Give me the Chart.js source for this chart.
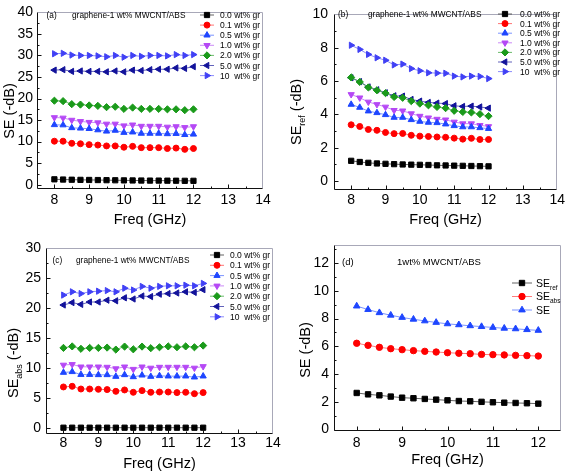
<!DOCTYPE html>
<html><head><meta charset="utf-8">
<script src="https://cdn.jsdelivr.net/npm/chart.js@4.4.0/dist/chart.umd.min.js"></script>
<style>
html,body{margin:0;padding:0;background:#fff;}
body{width:567px;height:473px;overflow:hidden;position:relative;}
.p{position:absolute;}
canvas{display:block;}
</style></head><body>
<div class="p" style="left:0px;top:0px;width:290px;height:230px"><canvas id="ca" width="290" height="230"></canvas></div>
<div class="p" style="left:285px;top:0px;width:282px;height:230px"><canvas id="cb" width="282" height="230"></canvas></div>
<div class="p" style="left:0px;top:230px;width:290px;height:243px"><canvas id="cc" width="290" height="243"></canvas></div>
<div class="p" style="left:285px;top:230px;width:282px;height:243px"><canvas id="cd" width="282" height="243"></canvas></div>
<script>
// ---------- data ----------
const freq = [8, 8.25, 8.5, 8.75, 9, 9.25, 9.5, 9.75, 10, 10.25, 10.5, 10.75, 11, 11.25, 11.5, 11.75, 12];
const groupLabels = ['0.0 wt% gr', '0.1 wt% gr', '0.5 wt% gr', '1.0 wt% gr', '2.0 wt% gr', '5.0 wt% gr', '10  wt% gr'];
const dLabels = [['SE', 'ref'], ['SE', 'abs'], ['SE', '']];
const xTicksWide = [8, 9, 10, 11, 12, 13, 14];
const xTicksD = [8, 9, 10, 11, 12];
const yTicksA = [0, 5, 10, 15, 20, 25, 30, 35, 40];
const yTicksB = [0, 2, 4, 6, 8, 10];
const yTicksC = [0, 5, 10, 15, 20, 25, 30];
const yTicksD = [0, 2, 4, 6, 8, 10, 12];

// (a) total SE
const seA00 = [1.25, 1.2, 1.15, 1.12, 1.1, 1.08, 1.05, 1.03, 1.0, 0.98, 0.97, 0.95, 0.95, 0.93, 0.92, 0.9, 0.9];
const seA01 = [10.1, 10.1, 9.6, 9.5, 9.3, 9.2, 9.0, 9.0, 8.7, 8.9, 8.6, 8.6, 8.6, 8.4, 8.5, 8.2, 8.4];
const seA05 = [13.9, 13.85, 13.2, 13.1, 13.0, 12.7, 12.4, 12.6, 12.1, 12.2, 11.9, 11.9, 11.9, 11.8, 11.85, 11.6, 11.7];
const seA10 = [15.6, 15.5, 15.0, 14.7, 14.5, 14.4, 14.1, 14.1, 13.7, 13.9, 13.6, 13.6, 13.6, 13.4, 13.5, 13.3, 13.5];
const seA20 = [19.5, 19.4, 18.7, 18.6, 18.4, 18.3, 18.0, 18.1, 17.6, 17.9, 17.6, 17.6, 17.6, 17.5, 17.5, 17.3, 17.5];
const seA50 = [26.6, 26.7, 26.3, 26.4, 26.3, 26.3, 26.2, 26.4, 26.2, 26.6, 26.5, 26.7, 26.8, 26.8, 27.1, 27.0, 27.4];
const seA100 = [30.4, 30.5, 30.1, 30.0, 30.0, 29.9, 29.7, 30.0, 29.6, 30.0, 29.8, 30.0, 30.0, 29.9, 30.2, 30.0, 30.2];

// (b) SE_ref
const seB00 = [1.22, 1.15, 1.1, 1.06, 1.04, 1.02, 1.0, 0.99, 0.98, 0.97, 0.95, 0.94, 0.93, 0.92, 0.91, 0.9, 0.89];
const seB01 = [3.38, 3.28, 3.1, 3.05, 2.92, 2.85, 2.86, 2.75, 2.7, 2.68, 2.65, 2.63, 2.58, 2.52, 2.57, 2.5, 2.5];
const seB05 = [4.6, 4.42, 4.2, 4.1, 3.98, 3.82, 3.82, 3.68, 3.58, 3.52, 3.5, 3.42, 3.32, 3.25, 3.25, 3.2, 3.15];
const seB10 = [5.2, 5.0, 4.75, 4.6, 4.45, 4.25, 4.22, 4.05, 3.9, 3.8, 3.72, 3.68, 3.55, 3.45, 3.45, 3.35, 3.28];
const seB20 = [6.22, 5.95, 5.62, 5.45, 5.28, 5.05, 5.0, 4.8, 4.65, 4.55, 4.45, 4.38, 4.22, 4.15, 4.12, 4.02, 3.9];
const seB50 = [6.2, 5.97, 5.65, 5.48, 5.3, 5.12, 5.1, 4.9, 4.8, 4.72, 4.68, 4.65, 4.52, 4.48, 4.5, 4.45, 4.38];
const seB100 = [8.15, 7.9, 7.6, 7.4, 7.25, 6.97, 7.02, 6.75, 6.62, 6.5, 6.48, 6.47, 6.3, 6.25, 6.3, 6.28, 6.15];

// (c) SE_abs
const seC00 = [0.05, 0.05, 0.05, 0.05, 0.05, 0.05, 0.05, 0.05, 0.05, 0.05, 0.05, 0.05, 0.05, 0.05, 0.05, 0.05, 0.05];
const seC01 = [6.84, 6.95, 6.5, 6.5, 6.45, 6.4, 6.11, 6.34, 5.95, 6.23, 5.95, 6.0, 6.0, 5.9, 5.95, 5.72, 5.9];
const seC05 = [9.25, 9.37, 8.9, 8.9, 8.86, 8.86, 8.58, 8.86, 8.52, 8.8, 8.58, 8.7, 8.64, 8.64, 8.64, 8.47, 8.64];
const seC10 = [10.5, 10.6, 10.2, 10.2, 10.2, 10.15, 9.9, 10.2, 9.8, 10.2, 10.0, 10.15, 10.15, 10.15, 10.15, 10.0, 10.26];
const seC20 = [13.35, 13.6, 13.2, 13.35, 13.35, 13.4, 13.07, 13.57, 13.12, 13.57, 13.3, 13.46, 13.6, 13.46, 13.6, 13.46, 13.74];
const seC50 = [20.5, 20.9, 20.6, 21.0, 21.0, 21.3, 21.2, 21.7, 21.5, 22.0, 21.9, 22.3, 22.4, 22.5, 22.7, 22.6, 23.05];
const seC100 = [22.15, 22.7, 22.4, 22.7, 22.8, 22.9, 22.7, 23.3, 23.0, 23.6, 23.3, 23.6, 23.7, 23.7, 23.8, 23.7, 24.1];

// (d) 1wt% MWCNT/ABS
const seDref = [2.64, 2.54, 2.47, 2.38, 2.3, 2.26, 2.21, 2.16, 2.11, 2.06, 2.04, 2.0, 1.97, 1.94, 1.92, 1.9, 1.87];
const seDabs = [6.22, 6.07, 5.93, 5.83, 5.76, 5.69, 5.64, 5.59, 5.54, 5.5, 5.47, 5.42, 5.4, 5.38, 5.35, 5.33, 5.3];
const seDtot = [8.9, 8.65, 8.42, 8.24, 8.08, 7.95, 7.83, 7.72, 7.62, 7.55, 7.48, 7.42, 7.36, 7.3, 7.26, 7.2, 7.15];

// ---------- styles ----------
const FONT = '"Liberation Sans", Arial, Helvetica, sans-serif';
const groupStyles = [
  {color: '#000000', line: 'rgba(60,60,60,0.8)', shape: 'rect', rot: 0, r: 3.7},
  {color: '#ff0000', line: 'rgba(255,80,80,0.8)', shape: 'circle', rot: 0, r: 3},
  {color: '#1e46ff', line: 'rgba(90,120,255,0.8)', shape: 'triangle', rot: 0, r: 3.6},
  {color: '#b548f5', line: 'rgba(190,110,245,0.8)', shape: 'triangle', rot: 180, r: 3.6},
  {color: '#1a9a1a', line: 'rgba(70,170,70,0.8)', shape: 'rectRot', rot: 0, r: 3.6},
  {color: '#12129a', line: 'rgba(60,60,170,0.8)', shape: 'triangle', rot: -90, r: 3.6},
  {color: '#4040f5', line: 'rgba(110,110,250,0.8)', shape: 'triangle', rot: 90, r: 3.6}
];
const dStyles = [
  {color: '#000000', line: 'rgba(60,60,60,0.8)', shape: 'rect', rot: 0, r: 3.8},
  {color: '#ff0000', line: 'rgba(255,90,90,0.8)', shape: 'circle', rot: 0, r: 3.2},
  {color: '#1e46ff', line: 'rgba(90,120,255,0.8)', shape: 'triangle', rot: 0, r: 3.8}
];

function groupSeries(arrs) {
  return arrs.map((v, i) => ({label: groupLabels[i], values: v, style: groupStyles[i]}));
}

const panels = [
  {id: 'ca', xMin: 7.5, xMax: 14, yMin: -1, yMax: 40, xTicks: xTicksWide, yTicks: yTicksA, xMinor: 0.5, yMinor: 2.5,
   pad: {top: 5, left: 0, right: 27, bottom: 0}, yW: 37, xH: 41, yPad: 4, xPad: 3, xTitlePad: 1,
   yTitle: [{t: 'SE (-dB)'}], yTitleX: 8.5, yTitleY: 111,
   notes: [{t: '(a)', x: 46.5, y: 15, size: 8.3}, {t: 'graphene-1 wt% MWCNT/ABS', x: 72, y: 15, size: 8.3}],
   leg: {x0: 200, x1: 214, tx: 220, y0: 15, gap: 10.1, size: 8.5},
   series: groupSeries([seA00, seA01, seA05, seA10, seA20, seA50, seA100])},
  {id: 'cb', xMin: 7.5, xMax: 14, yMin: -0.53, yMax: 10, xTicks: xTicksWide, yTicks: yTicksB, xMinor: 0.5, yMinor: 1,
   pad: {top: 7, left: 0, right: 8, bottom: 0}, yW: 49, xH: 40, yPad: 6, xPad: 2, xTitlePad: 1,
   yTitle: [{t: 'SE'}, {t: 'ref', sub: true}, {t: ' (-dB)'}], yTitleX: 10.5, yTitleY: 112,
   notes: [{t: '(b)', x: 53, y: 14.5, size: 8.3}, {t: 'graphene-1 wt% MWCNT/ABS', x: 83, y: 14.5, size: 8.3}],
   leg: {x0: 213, x1: 227, tx: 235, y0: 14, gap: 9.6, size: 8.5},
   series: groupSeries([seB00, seB01, seB05, seB10, seB20, seB50, seB100])},
  {id: 'cc', xMin: 7.5, xMax: 14, yMin: -1, yMax: 30, xTicks: xTicksWide, yTicks: yTicksC, xMinor: 0.5, yMinor: 2.5,
   pad: {top: 18, left: 0, right: 17, bottom: 0}, yW: 46, xH: 39, yPad: 5, xPad: 1, xTitlePad: 0,
   yTitle: [{t: 'SE'}, {t: 'abs', sub: true}, {t: ' (-dB)'}], yTitleX: 13, yTitleY: 133,
   notes: [{t: '(c)', x: 52.5, y: 30, size: 8.3}, {t: 'graphene-1 wt% MWCNT/ABS', x: 76, y: 30, size: 8.3}],
   leg: {x0: 210, x1: 224, tx: 230, y0: 25, gap: 10.3, size: 8.5},
   series: groupSeries([seC00, seC01, seC05, seC10, seC20, seC50, seC100])},
  {id: 'cd', xMin: 7.5, xMax: 12.5, yMin: -0.1, yMax: 13.3, xTicks: xTicksD, yTicks: yTicksD, xMinor: 0.5, yMinor: 1,
   pad: {top: 15, left: 0, right: 6, bottom: 0}, yW: 49, xH: 42, yPad: 5, xPad: 4, xTitlePad: 4,
   yTitle: [{t: 'SE (-dB)'}], yTitleX: 20, yTitleY: 120,
   notes: [{t: '(d)', x: 57, y: 32, size: 9.5}, {t: '1wt% MWCNT/ABS', x: 112, y: 32, size: 9.5}],
   leg: {x0: 227, x1: 247, tx: 251, y0: 53, gap: 13.5, size: 10.5},
   series: [seDref, seDabs, seDtot].map((v, i) => ({label: dLabels[i], values: v, style: dStyles[i]}))}
];

// ---------- helpers ----------
function toSegs(label) {
  if (Array.isArray(label)) {
    const s = [{t: label[0]}];
    if (label[1]) s.push({t: label[1], sub: true});
    return s;
  }
  return [{t: label}];
}
function drawSegs(ctx, segs, x, y, size, opts) {
  ctx.save();
  ctx.translate(x, y);
  if (opts.rotate) ctx.rotate(-Math.PI / 2);
  ctx.fillStyle = '#000';
  ctx.textBaseline = 'alphabetic';
  ctx.textAlign = 'left';
  const parts = segs.map(s => {
    const f = s.sub ? size * 0.62 : size;
    ctx.font = f + 'px ' + FONT;
    return {s: s, f: f, w: ctx.measureText(s.t).width};
  });
  const total = parts.reduce((a, p) => a + p.w, 0);
  let cx = opts.center ? -total / 2 : 0;
  const base = size * 0.36;
  parts.forEach(p => {
    ctx.font = p.f + 'px ' + FONT;
    ctx.fillText(p.s.t, cx, base + (p.s.sub ? size * 0.28 : 0));
    cx += p.w;
  });
  ctx.restore();
}
function marker(ctx, st, x, y) {
  ctx.save();
  ctx.fillStyle = st.color;
  ctx.strokeStyle = st.color;
  ctx.lineWidth = 1;
  if (Chart.helpers && Chart.helpers.drawPoint) {
    Chart.helpers.drawPoint(ctx, {pointStyle: st.shape, rotation: st.rot, radius: st.r, borderWidth: 1}, x, y);
  } else {
    ctx.beginPath(); ctx.arc(x, y, st.r, 0, Math.PI * 2); ctx.fill();
  }
  ctx.restore();
}

function panelPlugin(p) {
  return {
    id: 'panel_' + p.id,
    afterDraw(chart) {
      const ctx = chart.ctx;
      const {left, right, top, bottom} = chart.chartArea;
      const xs = chart.scales.x, ys = chart.scales.y;
      const L = Math.round(left) + 0.5, R = Math.round(right) - 0.5;
      const T = Math.round(top) + 0.5, B = Math.round(bottom) - 0.5;
      ctx.save();
      ctx.lineWidth = 1;
      ctx.strokeStyle = '#a8a8b8';
      ctx.beginPath(); ctx.moveTo(L, T); ctx.lineTo(R, T); ctx.lineTo(R, B); ctx.stroke();
      ctx.strokeStyle = '#111';
      ctx.beginPath(); ctx.moveTo(L, T); ctx.lineTo(L, B); ctx.lineTo(R, B); ctx.stroke();
      ctx.beginPath();
      const xMaj = p.xTicks, yMaj = p.yTicks;
      xMaj.forEach(v => { if (v > p.xMin && v < p.xMax) { const px = Math.round(xs.getPixelForValue(v)) + 0.5; ctx.moveTo(px, B); ctx.lineTo(px, B - 4); } });
      yMaj.forEach(v => { if (v > p.yMin && v < p.yMax) { const py = Math.round(ys.getPixelForValue(v)) + 0.5; ctx.moveTo(L, py); ctx.lineTo(L + 4, py); } });
      const xMinors = [xMaj[0] - p.xMinor].concat(xMaj.map(v => v + p.xMinor));
      xMinors.forEach(v => { if (v > p.xMin + 1e-6 && v < p.xMax - 1e-6) { const px = Math.round(xs.getPixelForValue(v)) + 0.5; ctx.moveTo(px, B); ctx.lineTo(px, B - 2); } });
      const yMinors = [yMaj[0] - p.yMinor].concat(yMaj.map(v => v + p.yMinor));
      yMinors.forEach(v => { if (v > p.yMin + 1e-6 && v < p.yMax - 1e-6) { const py = Math.round(ys.getPixelForValue(v)) + 0.5; ctx.moveTo(L, py); ctx.lineTo(L + 2, py); } });
      ctx.stroke();
      ctx.restore();

      drawSegs(ctx, p.yTitle, p.yTitleX, p.yTitleY, 14.5, {rotate: true, center: true});
      p.notes.forEach(n => drawSegs(ctx, [{t: n.t}], n.x, n.y, n.size, {}));
      const lg = p.leg;
      chart.data.datasets.forEach((ds, i) => {
        const st = p.series[i].style;
        const y = lg.y0 + i * lg.gap;
        ctx.save();
        ctx.strokeStyle = st.line; ctx.lineWidth = 1;
        ctx.beginPath(); ctx.moveTo(lg.x0, y); ctx.lineTo(lg.x1, y); ctx.stroke();
        ctx.restore();
        marker(ctx, st, (lg.x0 + lg.x1) / 2, y);
        drawSegs(ctx, toSegs(p.series[i].label), lg.tx, y, lg.size, {});
      });
    }
  };
}

function build(p) {
  const datasets = p.series.map(s => ({
    label: Array.isArray(s.label) ? s.label.join('') : s.label,
    data: freq.map((f, i) => ({x: f, y: s.values[i]})),
    borderColor: s.style.line, borderWidth: 1,
    pointBackgroundColor: s.style.color, pointBorderColor: s.style.color, pointBorderWidth: 1,
    pointStyle: s.style.shape, pointRotation: s.style.rot,
    pointRadius: s.style.r, pointHoverRadius: s.style.r,
    tension: 0, fill: false
  }));
  return new Chart(document.getElementById(p.id), {
    type: 'line',
    data: {datasets},
    options: {
      responsive: false, animation: false, devicePixelRatio: 1, events: [],
      layout: {padding: p.pad},
      plugins: {legend: {display: false}, tooltip: {enabled: false}},
      scales: {
        x: {
          type: 'linear', min: p.xMin, max: p.xMax,
          grid: {display: false, drawTicks: false}, border: {display: false},
          ticks: {padding: p.xPad, color: '#000', font: {family: FONT, size: 14}, maxRotation: 0, autoSkip: false, callback: v => String(v)},
          afterBuildTicks: s => { s.ticks = p.xTicks.map(v => ({value: v})); },
          afterFit: s => { s.height = p.xH; },
          title: {display: true, text: 'Freq (GHz)', color: '#000', font: {family: FONT, size: 14.5}, padding: {top: 0, bottom: p.xTitlePad}}
        },
        y: {
          type: 'linear', min: p.yMin, max: p.yMax,
          grid: {display: false, drawTicks: false}, border: {display: false},
          ticks: {padding: p.yPad, color: '#000', font: {family: FONT, size: 14}, autoSkip: false, callback: v => String(v)},
          afterBuildTicks: s => { s.ticks = p.yTicks.map(v => ({value: v})); },
          afterFit: s => { s.width = p.yW; }
        }
      }
    },
    plugins: [panelPlugin(p)]
  });
}
panels.forEach(build);
</script>
</body></html>
